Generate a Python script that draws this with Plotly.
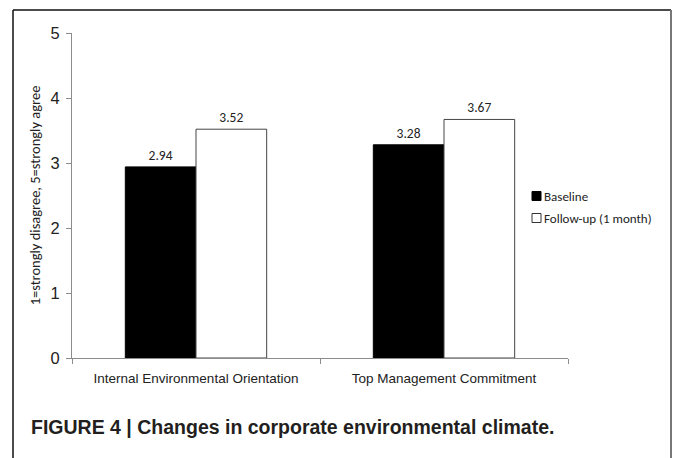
import plotly.graph_objects as go

# Survey means on a 1-5 agreement scale
categories = ["Internal Environmental Orientation", "Top Management Commitment"]
baseline = [2.94, 3.28]
follow_up = [3.52, 3.67]
series_names = ["Baseline", "Follow-up (1 month)"]
y_ticks = [0, 1, 2, 3, 4, 5]

W, H = 675, 458
CAL = "Carlito, Calibri, Lato, sans-serif"
ARIAL = "Liberation Sans, Arial, sans-serif"

def px_x(p):
    return p / W

def px_y(p):
    return 1 - p / H

fig = go.Figure()
fig.add_trace(go.Bar(
    x=categories, y=baseline, name=series_names[0],
    marker=dict(color="#000000", line=dict(color="#000000", width=1)),
    text=[f"{v:.2f}" for v in baseline], textposition="outside",
    textfont=dict(family=CAL, size=13.5, color="#222222"), cliponaxis=False,
))
fig.add_trace(go.Bar(
    x=categories, y=follow_up, name=series_names[1],
    marker=dict(color="#ffffff", line=dict(color="#444444", width=1)),
    text=[f"{v:.2f}" for v in follow_up], textposition="outside",
    textfont=dict(family=CAL, size=13.5, color="#222222"), cliponaxis=False,
))

fig.update_layout(
    width=W, height=H,
    margin=dict(l=0, r=0, t=0, b=0, pad=0, autoexpand=False),
    paper_bgcolor="white", plot_bgcolor="white",
    barmode="group", bargap=0.43, bargroupgap=0,
    showlegend=False,
    xaxis=dict(
        domain=[px_x(72), px_x(568)], automargin=False,
        showline=True, linecolor="#8c8c8c", linewidth=1,
        ticks="outside", tickson="boundaries", ticklen=5, tickcolor="#8c8c8c",
        ticklabelstandoff=8,
        tickfont=dict(family=ARIAL, size=13.5, color="#222222"),
        showgrid=False, zeroline=False,
    ),
    yaxis=dict(
        domain=[px_y(358), px_y(33)], automargin=False,
        range=[0, 5], tickvals=y_ticks,
        showline=True, linecolor="#8c8c8c", linewidth=1,
        ticks="outside", ticklen=5, tickcolor="#8c8c8c",
        ticklabelstandoff=3,
        tickfont=dict(family=ARIAL, size=16.5, color="#222222"),
        showgrid=False, zeroline=False,
        title=dict(text="1=strongly disagree, 5=strongly agree",
                   font=dict(family=CAL, size=14.5, color="#222222"), standoff=6),
    ),
)

# Outer figure frame
fig.add_shape(type="line", xref="paper", yref="paper",
              x0=px_x(13), x1=px_x(13), y0=px_y(10), y1=0,
              line=dict(color="#111111", width=1.5))
fig.add_shape(type="line", xref="paper", yref="paper",
              x0=px_x(13), x1=px_x(671), y0=px_y(10), y1=px_y(10),
              line=dict(color="#111111", width=1.5))
fig.add_shape(type="line", xref="paper", yref="paper",
              x0=px_x(671), x1=px_x(671), y0=px_y(10), y1=0,
              line=dict(color="#777777", width=2))

# Legend: swatches and labels
legend_rows = [(196, "#000000", "#000000"), (218, "#ffffff", "#333333")]
for (cy, fill, edge), name in zip(legend_rows, series_names):
    fig.add_shape(type="rect", xref="paper", yref="paper",
                  x0=px_x(532), x1=px_x(541), y0=px_y(cy + 4.5), y1=px_y(cy - 4.5),
                  fillcolor=fill, line=dict(color=edge, width=1))
    fig.add_annotation(xref="paper", yref="paper", x=px_x(542), y=px_y(cy),
                       text=name, showarrow=False, xanchor="left", yanchor="middle",
                       font=dict(family=CAL, size=13, color="#222222"))

# Caption
fig.add_annotation(xref="paper", yref="paper", x=px_x(29), y=px_y(427),
                   text="FIGURE 4 | Changes in corporate environmental climate.",
                   showarrow=False, xanchor="left", yanchor="middle",
                   font=dict(family=ARIAL, size=19.5, color="#231f20", weight="bold"))

fig.write_html("out.html")
